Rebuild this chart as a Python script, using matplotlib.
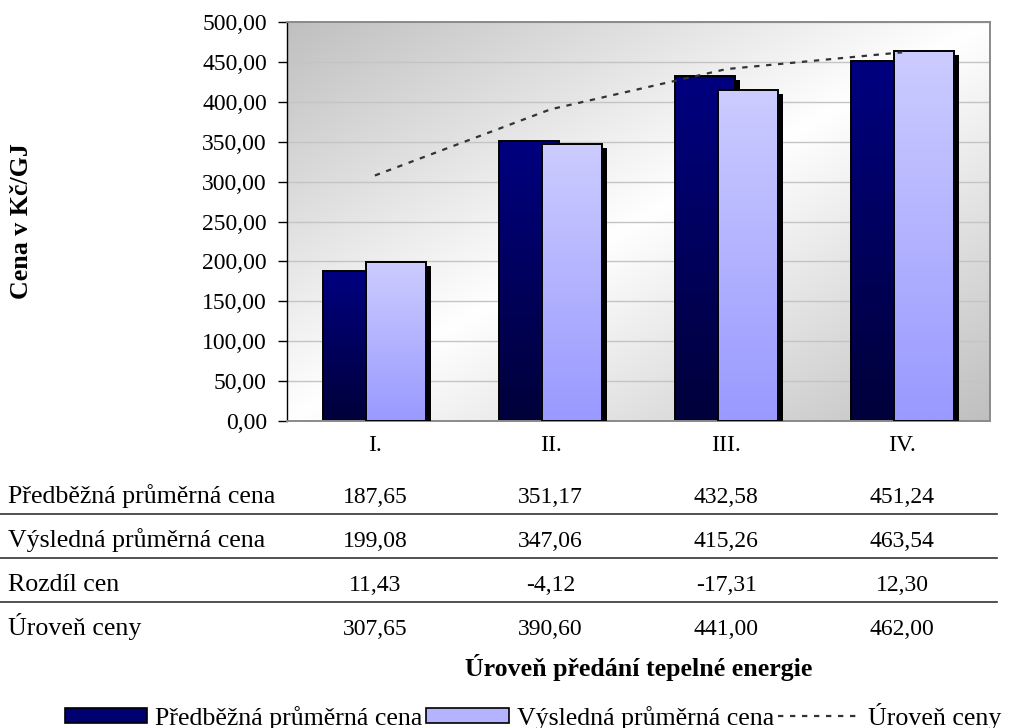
import numpy as np
import matplotlib
matplotlib.use('Agg')
import matplotlib.pyplot as plt
from matplotlib.patches import Patch, Rectangle
from matplotlib.lines import Line2D
from matplotlib.transforms import blended_transform_factory
import matplotlib.patheffects as pe

# ---------------- data ----------------
categories = ['I.', 'II.', 'III.', 'IV.']
predbezna = [187.65, 351.17, 432.58, 451.24]
vysledna = [199.08, 347.06, 415.26, 463.54]
rozdil = [11.43, -4.12, -17.31, 12.30]
uroven = [307.65, 390.60, 441.00, 462.00]
row_labels = ['Předběžná průměrná cena', 'Výsledná průměrná cena', 'Rozdíl cen', 'Úroveň ceny']
yticks = [0, 50, 100, 150, 200, 250, 300, 350, 400, 450, 500]


def fmt(v):
    return f"{v:.2f}".replace('.', ',')


plt.rcParams['font.family'] = ['Liberation Serif', 'DejaVu Serif']
FS = 17      # numbers
FL = 18.6    # text labels

W, H = 1009, 728
fig = plt.figure(figsize=(W / 100, H / 100), dpi=100)
fig.patch.set_facecolor('white')

def fx(px):
    return px / W

def fy(py):
    return 1 - py / H

ax = fig.add_axes([fx(287), fy(421), fx(990) - fx(287), fy(22) - fy(421)])
x = np.arange(len(categories))
ax.set_xlim(-0.5, len(categories) - 0.5)
ax.set_ylim(0, 500)

# background gradient (diagonal: gray -> white -> gray)
n = 300
u = np.linspace(0, 1, n)[None, :]
v = np.linspace(1, 0, n)[:, None]
t = (u + (1 - v)) / 2
g = 1 - (1 - 0.75) * np.abs(2 * t - 1)
bg = np.dstack([g, g, g])
ax.imshow(bg, extent=(-0.5, len(categories) - 0.5, 0, 500), aspect='auto',
          origin='upper', zorder=0, interpolation='bilinear')

ax.set_yticks(yticks)
ax.set_yticklabels([fmt(v) for v in yticks], fontsize=FS)
ax.yaxis.grid(True, color='#c4c4c4', lw=1.0, zorder=0.5)
ax.set_axisbelow(True)
ax.tick_params(axis='y', length=6.5, width=1, color='black', pad=8, direction='out')
ax.set_xticks(x)
ax.set_xticklabels(categories, fontsize=FS)
ax.tick_params(axis='x', length=0, pad=10)

for s in ['top', 'right', 'bottom']:
    ax.spines[s].set_color('#8a8a8a')
    ax.spines[s].set_linewidth(1.4)
ax.spines['left'].set_color('black')
ax.spines['left'].set_linewidth(1.0)

bw = 0.342
off = 0.122


def gradient_bars(xpos, vals, top_col, bot_col, z):
    top = np.array(matplotlib.colors.to_rgb(top_col))
    bot = np.array(matplotlib.colors.to_rgb(bot_col))
    grad = np.linspace(0, 1, 100)[:, None, None]
    arr = top[None, None, :] * (1 - grad) + bot[None, None, :] * grad
    bars = ax.bar(xpos, vals, bw, color=bot_col, edgecolor='none', zorder=z,
                  path_effects=[pe.SimplePatchShadow(offset=(3.6, -3.0), shadow_rgbFace='black', alpha=1.0),
                                pe.Normal()])
    for r in bars:
        x0, y0 = r.get_x(), r.get_y()
        w, h = r.get_width(), r.get_height()
        im = ax.imshow(arr, extent=(x0, x0 + w, y0, y0 + h), aspect='auto',
                       origin='upper', zorder=z + 0.1, interpolation='bilinear')
        im.set_clip_path(r)
        ax.add_patch(Rectangle((x0, y0), w, h, facecolor='none', edgecolor='black',
                               lw=1.4, zorder=z + 0.2))
    return bars

gradient_bars(x - off, predbezna, '#000080', '#00003a', 2)
gradient_bars(x + off, vysledna, '#ccccff', '#9999ff', 3)

ax.plot(x, uroven, color='#333333', lw=1.6, linestyle=(0, (2.4, 3.0)), zorder=4)

ax.set_xlim(-0.5, len(categories) - 0.5)
ax.set_ylim(0, 500)

# ---------------- data table ----------------
tr = blended_transform_factory(ax.transData, fig.transFigure)
rows = [predbezna, vysledna, rozdil, uroven]
baselines = [503, 547, 591, 635]
for lab, vals, bl in zip(row_labels, rows, baselines):
    fig.text(fx(8), fy(bl), lab, fontsize=FL, ha='left', va='baseline')
    for xi, v in zip(x, vals):
        fig.text(xi, fy(bl), fmt(v), fontsize=FS, ha='center', va='baseline', transform=tr)
for ly in [514, 558, 602]:
    fig.add_artist(Line2D([0, fx(997)], [fy(ly), fy(ly)], color='#333333', lw=1.2,
                          transform=fig.transFigure))

# axis titles
fig.text(0.5 * (fx(287) + fx(990)), fy(676), 'Úroveň předání tepelné energie', fontsize=FL,
         fontweight='bold', ha='center', va='baseline')
fig.text(fx(22), 0.5 * (fy(22) + fy(421)), 'Cena v Kč/GJ', fontsize=FL, fontweight='bold',
         rotation=90, ha='center', va='center')

# legend
handles = [Patch(facecolor='#000070', edgecolor='black', lw=1.2),
           Patch(facecolor='#b3b3ff', edgecolor='black', lw=1.2),
           Line2D([], [], color='#333333', lw=1.6, linestyle=(0, (2.4, 3.0)))]
labels = ['Předběžná průměrná cena', 'Výsledná průměrná cena', 'Úroveň ceny']
fig.legend(handles, labels, loc='center', bbox_to_anchor=(fx(533), fy(716)), ncol=3,
           frameon=False, fontsize=FL, handlelength=3.2, handleheight=0.55,
           handletextpad=0.3, columnspacing=0.15, borderpad=0, borderaxespad=0)

fig.savefig('out.png', dpi=100)
